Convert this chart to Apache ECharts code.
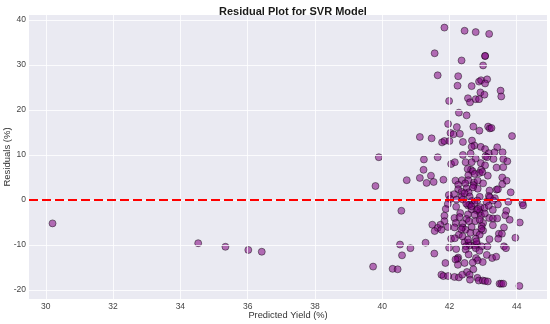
<!DOCTYPE html>
<html><head><meta charset="utf-8">
<script src="https://cdn.jsdelivr.net/npm/echarts@6/dist/echarts.min.js"></script>
<style>html,body{margin:0;padding:0;background:#fff}#c{width:550px;height:324px}</style>
</head><body><div id="c"></div>
<script>
const title = "Residual Plot for SVR Model";
const xName = "Predicted Yield (%)";
const yName = "Residuals (%)";
const xTicks = [30, 32, 34, 36, 38, 40, 42, 44];
const yTicks = [-20, -10, 0, 10, 20, 30, 40];
const predicted = [
41.85,42.45,42.78,43.18,41.56,43.06,43.06,42.36,43.0,41.65,42.26,42.88,42.94,43.12,43.06,42.24,42.66,43.52,42.92,43.04,
43.54,42.55,42.78,42.88,41.99,42.61,42.28,42.51,41.96,42.22,42.71,43.15,43.2,43.25,42.89,42.03,42.12,42.31,41.12,41.47,
43.86,41.78,41.85,42.0,42.4,42.67,42.74,42.66,42.93,43.42,43.06,43.17,43.34,43.58,42.4,42.63,43.07,43.12,39.9,41.24,
41.65,42.78,43.31,43.6,43.72,42.48,42.66,42.05,42.16,42.93,43.06,43.4,43.6,42.64,41.23,42.54,42.94,42.69,42.89,42.98,
41.45,41.12,41.82,42.56,43.14,43.57,42.18,40.73,41.32,41.53,39.8,42.37,42.56,42.73,42.84,43.0,43.7,43.57,42.26,42.47,
42.72,42.51,42.26,42.84,43.19,43.4,43.82,43.44,42.36,42.57,42.14,41.98,42.02,42.36,42.6,42.9,43.17,43.35,42.21,42.4,
42.67,42.83,43.1,43.3,44.17,44.19,43.75,41.95,42.2,42.55,42.74,42.92,43.04,43.17,43.44,40.57,41.89,42.66,42.81,42.9,
43.29,43.69,42.32,42.55,42.75,42.94,42.15,42.51,41.85,43.66,43.18,43.29,43.42,41.85,42.58,42.77,43.79,42.19,42.39,43.0,
41.49,41.73,44.09,41.65,41.95,42.15,42.39,42.48,42.66,42.96,43.29,43.62,41.56,41.76,42.62,42.8,43.0,43.47,43.56,42.9,
42.28,42.39,43.96,42.05,42.16,42.78,43.19,43.45,41.29,42.45,42.57,42.6,40.53,42.74,42.82,42.49,42.96,43.13,43.62,43.68,
40.84,41.99,42.2,42.48,42.78,42.89,41.55,42.57,40.59,43.11,43.27,43.39,42.26,42.24,42.18,42.79,42.84,42.45,42.69,41.88,
42.25,42.99,39.73,42.71,40.31,40.46,41.76,41.82,41.96,42.15,42.28,42.52,42.6,42.38,42.61,42.83,42.87,42.99,43.06,43.14,
43.49,43.54,43.6,44.08,30.2,34.53,35.34,36.02,36.42,
42.45,42.6,42.7,42.85,43.05,42.35,42.55,42.8,42.95,43.2,42.5,42.65,42.75,42.3,42.9
];
const residuals = [
38.3,37.6,37.3,36.9,32.6,32.0,32.0,31.0,29.9,27.7,27.5,26.3,26.6,26.8,25.9,25.4,25.3,24.3,23.9,23.4,
23.0,22.6,22.4,22.4,22.0,21.7,19.4,18.8,16.9,16.2,16.3,16.3,15.9,16.0,15.4,14.9,14.6,14.7,14.0,13.7,
14.2,12.8,13.1,13.1,12.9,13.2,12.1,11.8,11.8,11.7,11.3,10.4,10.6,10.6,10.0,10.3,9.7,9.5,9.5,9.0,
9.5,9.2,9.1,9.1,8.6,8.4,8.4,8.0,8.4,8.2,7.7,7.2,7.3,6.7,6.7,6.9,6.7,6.4,6.0,6.2,
5.4,4.9,4.5,5.5,5.4,5.0,4.3,4.4,3.8,4.0,3.1,4.4,4.4,3.9,4.3,3.7,4.3,3.5,3.4,3.7,
3.3,2.6,2.4,2.5,2.1,2.3,1.7,2.4,1.8,1.7,1.3,1.1,0.2,0.8,0.8,0.7,0.9,0.4,0.1,0.1,
-0.2,-0.1,-0.4,-0.1,-0.7,-1.2,-0.4,-0.9,-1.5,-1.2,-0.7,-1.6,-1.8,-1.3,-1.0,-2.4,-2.0,-2.1,-2.3,-2.7,
-2.2,-2.4,-2.9,-3.2,-3.3,-3.5,-4.0,-4.2,-3.5,-3.4,-4.0,-4.1,-4.1,-4.7,-4.7,-4.7,-4.4,-5.1,-5.2,-5.1,
-5.5,-5.5,-5.0,-6.2,-6.0,-6.1,-6.1,-6.6,-6.0,-5.8,-5.6,-6.1,-6.9,-6.6,-7.3,-7.2,-6.8,-7.5,-7.5,-7.7,
-7.7,-8.1,-8.4,-8.6,-8.5,-8.6,-8.7,-8.6,-9.5,-9.4,-9.5,-10.1,-9.9,-10.1,-9.8,-10.3,-10.3,-10.3,-10.3,-10.7,
-10.7,-10.6,-10.9,-11.0,-10.7,-11.3,-11.9,-12.1,-12.3,-12.2,-12.9,-12.6,-12.8,-13.1,-13.2,-12.9,-13.4,-14.0,-13.9,-14.0,
-14.4,-13.8,-14.8,-15.4,-15.3,-15.4,-16.6,-16.9,-16.9,-17.1,-17.2,-16.0,-16.6,-16.6,-17.7,-17.3,-17.9,-17.9,-18.0,-18.1,
-18.6,-18.6,-18.6,-19.1,-5.2,-9.6,-10.4,-11.1,-11.5,
1.5,-1.0,2.8,-2.0,-3.0,-6.5,-8.8,-9.2,-6.4,0.6,-0.8,-1.4,5.8,-3.8,-4.4
];
const scatterData = predicted.map((x, i) => [x, residuals[i]]);
const chart = echarts.init(document.getElementById('c'), null, {renderer: 'canvas'});
const gridLineStyle = {color: '#ffffff', width: 1, type: 'solid', opacity: 0.8};
chart.setOption({
  animation: false,
  backgroundColor: '#ffffff',
  textStyle: {fontFamily: 'Liberation Sans, Arial, sans-serif'},
  title: {
    text: title, left: 214, top: 1,
    textStyle: {fontSize: 11, fontWeight: 'bold', color: '#1a1a1a', fontFamily: 'Liberation Sans, Arial, sans-serif'}
  },
  grid: {left: 29, right: 3, top: 15, bottom: 25, show: true, backgroundColor: '#EAEAF2', borderWidth: 0,
         containLabel: false, outerBoundsMode: 'none'},
  xAxis: {
    type: 'value', min: 29.5, max: 44.9,
    name: xName, nameLocation: 'middle', nameGap: 12, nameMoveOverlap: false,
    nameTextStyle: {fontSize: 9.3, color: '#333', verticalAlign: 'top'},
    axisLine: {show: false}, axisTick: {show: false}, splitLine: {show: false},
    axisLabel: {customValues: xTicks, fontSize: 8.5, color: '#444', margin: 3}
  },
  yAxis: {
    type: 'value', min: -22, max: 41.1,
    name: yName, nameLocation: 'middle', nameGap: 17, nameRotate: 90, nameMoveOverlap: false,
    nameTextStyle: {fontSize: 9.5, color: '#333'},
    axisLine: {show: false}, axisTick: {show: false}, splitLine: {show: false},
    axisLabel: {customValues: yTicks, fontSize: 8.5, color: '#444', margin: 3}
  },
  series: [
    {
      type: 'line', data: [], silent: true, z: 1,
      markLine: {
        silent: true, symbol: 'none', label: {show: false}, animation: false,
        lineStyle: gridLineStyle,
        data: xTicks.map(v => ({xAxis: v})).concat(yTicks.map(v => ({yAxis: v})))
      }
    },
    {
      type: 'scatter', data: scatterData, symbolSize: 7, z: 2,
      itemStyle: {color: 'purple', borderColor: '#000', borderWidth: 0.8, opacity: 0.55}
    },
    {
      type: 'line', data: [], silent: true, z: 5,
      markLine: {
        silent: true, symbol: 'none', label: {show: false}, animation: false,
        lineStyle: {color: '#ff0000', width: 2, type: [9, 4]},
        data: [{yAxis: 0}]
      }
    }
  ]
});
</script></body></html>
